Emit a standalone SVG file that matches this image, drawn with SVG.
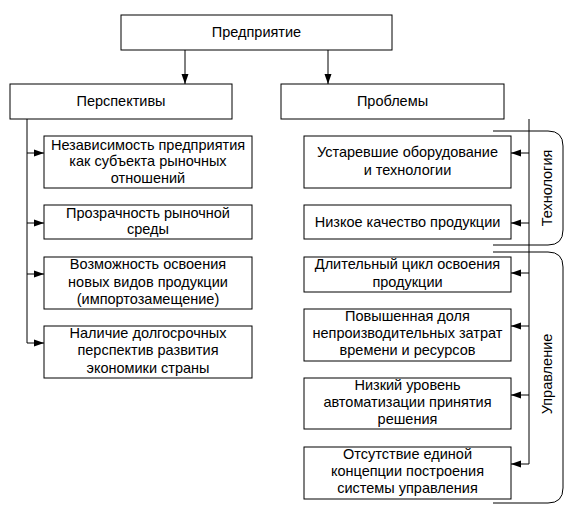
<svg xmlns="http://www.w3.org/2000/svg" width="567" height="507" viewBox="0 0 567 507">
<defs>
<marker id="ah" markerUnits="userSpaceOnUse" markerWidth="10" markerHeight="8" refX="10" refY="4" orient="auto">
<path d="M0,0.5 L10,4 L0,7.5 z" fill="#000"/>
</marker>
<style>
.box{fill:#fff;stroke:#000;stroke-width:1}
.t{font-family:"Liberation Sans",Arial,sans-serif;font-size:14.5px;fill:#000;text-anchor:middle}
.c{fill:none;stroke:#000;stroke-width:1}
.br{fill:none;stroke:#000;stroke-width:1}
</style>
</defs>
<rect width="567" height="507" fill="#fff"/>
<g id="connectors">
<path class="c" d="M185,50 V84" marker-end="url(#ah)"/>
<path class="c" d="M328,50 V84" marker-end="url(#ah)"/>
<path class="c" d="M27,119 V343"/>
<path class="c" d="M27,153 H44" marker-end="url(#ah)"/>
<path class="c" d="M27,223 H44" marker-end="url(#ah)"/>
<path class="c" d="M27,274 H44" marker-end="url(#ah)"/>
<path class="c" d="M27,343 H44" marker-end="url(#ah)"/>
<path class="c" d="M529,119 V464"/>
<path class="c" d="M529,153 H511" marker-end="url(#ah)"/>
<path class="c" d="M529,223 H511" marker-end="url(#ah)"/>
<path class="c" d="M529,273 H511" marker-end="url(#ah)"/>
<path class="c" d="M529,326 H511" marker-end="url(#ah)"/>
<path class="c" d="M529,395 H511" marker-end="url(#ah)"/>
<path class="c" d="M529,464 H511" marker-end="url(#ah)"/>
</g>
<g id="root"><rect class="box" x="121" y="15" width="271" height="35"/><text class="t" x="256.5" y="37">Предприятие</text></g>
<g id="perspectives"><rect class="box" x="10" y="84" width="222" height="35"/><text class="t" x="121" y="106">Перспективы</text></g>
<g id="problems"><rect class="box" x="281" y="84" width="223" height="35"/><text class="t" x="392.5" y="106">Проблемы</text></g>
<g id="p1"><rect class="box" x="44" y="136" width="208" height="52"/><text class="t" x="148" y="150">Независимость предприятия</text><text class="t" x="148" y="166">как субъекта рыночных</text><text class="t" x="148" y="183">отношений</text></g>
<g id="p2"><rect class="box" x="44" y="205" width="208" height="34"/><text class="t" x="148" y="218">Прозрачность рыночной</text><text class="t" x="148" y="234">среды</text></g>
<g id="p3"><rect class="box" x="44" y="257" width="208" height="52"/><text class="t" x="148" y="269">Возможность освоения</text><text class="t" x="148" y="287">новых видов продукции</text><text class="t" x="148" y="304">(импортозамещение)</text></g>
<g id="p4"><rect class="box" x="44" y="326" width="208" height="52"/><text class="t" x="148" y="338">Наличие долгосрочных</text><text class="t" x="148" y="355">перспектив развития</text><text class="t" x="148" y="373">экономики страны</text></g>
<g id="r1"><rect class="box" x="304" y="136" width="207" height="52"/><text class="t" x="407.5" y="157">Устаревшие оборудование</text><text class="t" x="407.5" y="175">и технологии</text></g>
<g id="r2"><rect class="box" x="304" y="205" width="207" height="34"/><text class="t" x="407.5" y="227">Низкое качество продукции</text></g>
<g id="r3"><rect class="box" x="304" y="257" width="207" height="35"/><text class="t" x="407.5" y="269">Длительный цикл освоения</text><text class="t" x="407.5" y="287">продукции</text></g>
<g id="r4"><rect class="box" x="304" y="309" width="207" height="52"/><text class="t" x="407.5" y="321">Повышенная доля</text><text class="t" x="407.5" y="338">непроизводительных затрат</text><text class="t" x="407.5" y="355">времени и ресурсов</text></g>
<g id="r5"><rect class="box" x="304" y="378" width="207" height="51"/><text class="t" x="407.5" y="390">Низкий уровень</text><text class="t" x="407.5" y="407">автоматизации принятия</text><text class="t" x="407.5" y="424">решения</text></g>
<g id="r6"><rect class="box" x="304" y="447" width="207" height="52"/><text class="t" x="407.5" y="459">Отсутствие единой</text><text class="t" x="407.5" y="476">концепции построения</text><text class="t" x="407.5" y="493">системы управления</text></g>
<g id="tech"><path class="br" d="M493,131 H548 Q563,131 563,146 V230 Q563,245 548,245 H493"/><text class="t" transform="translate(552,188) rotate(-90)">Технология</text></g>
<g id="mgmt"><path class="br" d="M493,252 H548 Q563,252 563,267 V488 Q563,503 548,503 H493"/><text class="t" transform="translate(552,374) rotate(-90)">Управление</text></g>
</svg>
